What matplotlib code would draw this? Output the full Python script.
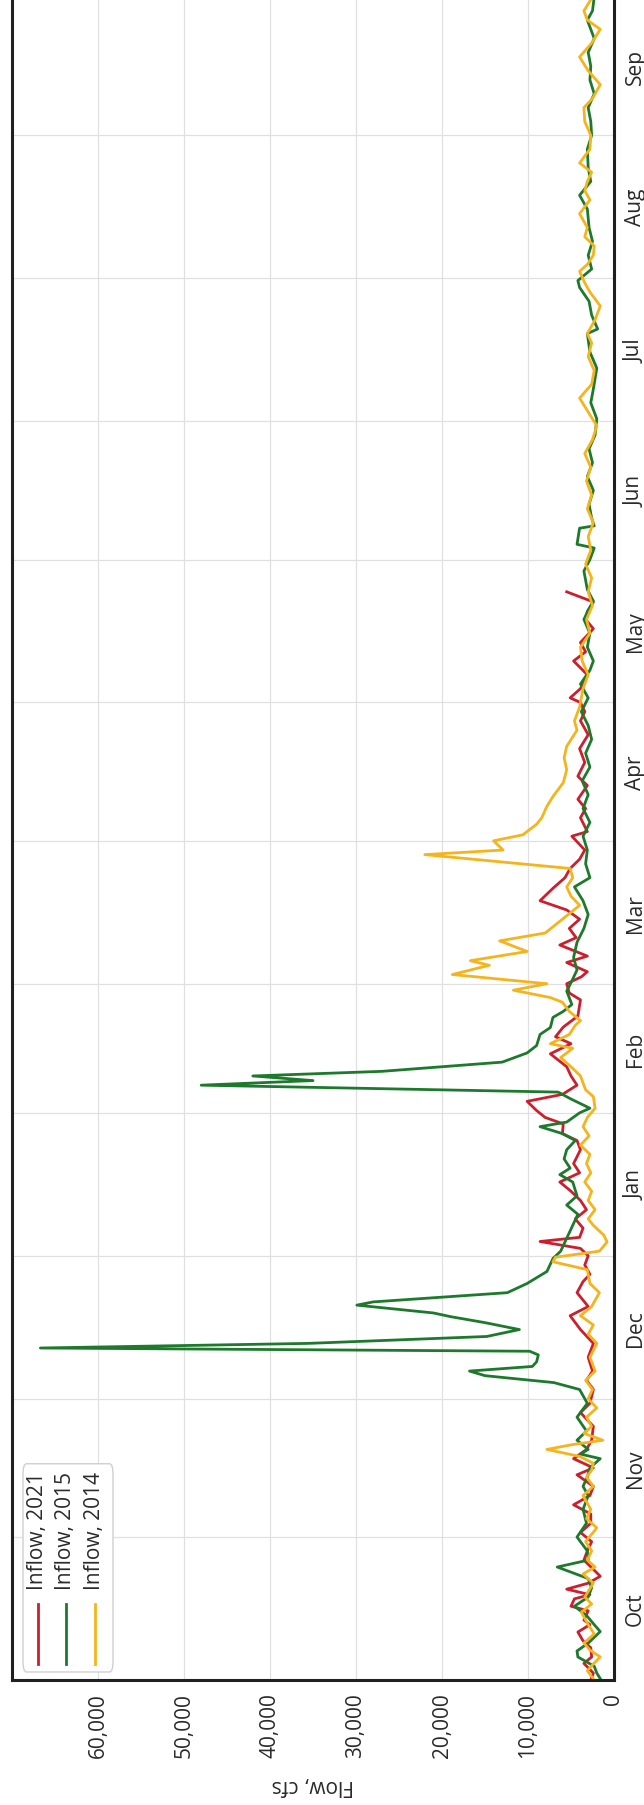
import numpy as np
import matplotlib.pyplot as plt
from matplotlib.patches import FancyBboxPatch

plt.rcParams['font.family'] = ['Open Sans', 'DejaVu Sans']

# water year, Oct -> Sep
months = ["Oct", "Nov", "Dec", "Jan", "Feb", "Mar", "Apr", "May", "Jun", "Jul", "Aug", "Sep"]
month_days = [31, 30, 31, 31, 28, 31, 30, 31, 30, 31, 31, 30]
flow_ticks = [0, 10000, 20000, 30000, 40000, 50000, 60000]

# (day of water year, inflow cfs)
inflow_2021 = [
    (0, 2700), (1.5, 2400), (3.6, 3500), (5, 2600), (7, 2700), (8.5, 3600), (10.4, 4200),
    (12, 2800), (13, 3500), (15, 3000), (16, 5000), (17.6, 4600), (18.5, 2800), (19.7, 5500),
    (21, 3000), (22.5, 1600), (24, 2400), (26, 3500), (28, 3100), (30, 2600), (32, 3900),
    (34, 2700), (36, 2700), (38, 4700), (40, 2800), (42, 2400), (44.5, 4300), (46, 2400),
    (48, 4700), (50, 3200), (52, 2600), (55, 2400), (58, 3900), (60, 2800), (63, 2400),
    (65, 3200), (67, 2500), (70, 3000), (73, 2400), (76, 3900), (79, 5100), (81, 3000),
    (84, 4300), (86.4, 3600), (88, 2800), (90, 3400), (92, 3000), (93.6, 3900), (95.1, 8600),
    (96, 4000), (98, 3600), (100, 4500), (102, 3200), (104, 3900), (106, 5000), (108, 6300),
    (110, 4000), (112, 4700), (115, 3900), (117, 4300), (118.5, 6000), (120.6, 5900),
    (122, 8000), (123.5, 9000), (125.5, 10100), (127, 6000), (129, 4300), (131, 5000),
    (133, 5500), (135.8, 7400), (138, 5000), (139.5, 6800), (141.6, 5900), (144, 4200),
    (147.5, 3900), (149, 5200), (151, 5500), (152.5, 3800), (153.6, 3100), (155.6, 5500),
    (157, 3100), (159.4, 6300), (161, 4400), (163, 5200), (165, 4000), (167, 5500),
    (169, 8600), (171.7, 7100), (174, 5700), (176, 5100), (178, 4000), (180, 3400),
    (183, 4900), (184, 3100), (187, 3900), (189, 3300), (191, 4200), (194, 3100), (196, 4200),
    (199, 3400), (202, 4000), (205, 3000), (208, 3900), (210, 3400), (212, 3900), (213, 5100),
    (215, 3900), (218, 3100), (221, 4700), (223, 3300), (225, 3900), (228, 2400), (230, 3300),
    (231.7, 3100), (233.8, 2400), (236, 5500),
]

inflow_2015 = [
    (0, 1500), (1.5, 2000), (3, 2300), (5, 4200), (6.3, 4300), (8, 3000), (10.5, 1600),
    (12, 2300), (14, 3200), (16, 4600), (18, 3000), (20, 2600), (22, 3000), (24.5, 6600),
    (26, 3000), (28, 3100), (31, 4300), (34, 3200), (37, 3600), (40, 3000), (42, 3600),
    (44, 3100), (46, 2800), (48, 1600), (49, 3900), (50, 3000), (52, 4300), (54, 3200),
    (57, 4300), (60, 3100), (62, 3700), (63, 4000), (64.5, 7000), (66, 15000), (67, 16800),
    (68, 9500), (69, 9000), (70.5, 8800), (71.3, 9800), (72, 66700), (73, 35600),
    (74.5, 14800), (76, 11000), (77.5, 15000), (78.8, 19000), (79.6, 21000), (81.3, 29900),
    (82, 28000), (84, 12400), (86, 10100), (88.6, 7800), (91.4, 7100), (93, 6200),
    (95.8, 5500), (98.6, 4800), (101, 4200), (103, 5500), (105, 4300), (108, 4800),
    (109.6, 6300), (111, 5100), (113, 5800), (115, 5500), (117, 4500), (118.5, 6000),
    (120, 8600), (121, 5500), (123, 4000), (124, 2800), (126, 5000), (127.5, 6500),
    (129, 48000), (130, 35000), (131, 42000), (132, 27000), (134, 13000), (136, 10100),
    (137.6, 9000), (140, 8600), (141.5, 7400), (143.7, 7100), (145, 5900), (146.5, 4900),
    (149.4, 5500), (151.6, 4900), (154, 4300), (156.7, 4700), (160, 4300), (163, 3500),
    (166, 3000), (169, 3600), (172, 4600), (174, 2800), (177, 3300), (180, 3100),
    (183, 3600), (186, 2800), (189, 3600), (192, 3000), (195, 3700), (198, 2800),
    (201, 3300), (204, 2600), (207, 3000), (210, 3800), (213, 3000), (216, 3900),
    (219, 2800), (221, 2400), (224, 3100), (227, 2800), (230, 3500), (232, 3000),
    (234, 2400), (236.5, 3100), (240.5, 3500), (243, 2800), (245.5, 2300), (246.3, 4300),
    (249.8, 4000), (250.3, 2300), (252, 2600), (255, 2900), (258, 2400), (261, 3100),
    (264, 2500), (267, 2900), (270, 2200), (273.5, 2000), (277, 2700), (280, 2400),
    (284.5, 2000), (288, 2800), (292, 3100), (293, 1900), (296, 2600), (299, 2900),
    (302, 4000), (303.5, 4200), (306, 2600), (309, 3000), (312, 2500), (315, 2900),
    (319, 3100), (322, 4000), (325, 2700), (328, 3000), (332, 3100), (335, 2600),
    (338, 2700), (341, 3000), (344, 2300), (347, 2800), (350, 2700), (353, 3000),
    (356, 2300), (360, 3100), (362, 2500), (365, 2300),
]

inflow_2014 = [
    (0, 2300), (2, 3100), (3.5, 2400), (5, 1600), (6.5, 2800), (8, 3500), (10, 2300),
    (12, 3000), (14.7, 3800), (16.5, 2600), (18, 3400), (21, 2400), (23, 3600), (24.5, 2200),
    (26, 3100), (28, 2600), (30, 3300), (33, 2000), (35, 3200), (37, 2700), (40, 3600),
    (42, 2400), (44, 3200), (45.5, 2600), (47, 2400), (48.5, 4000), (50, 7800), (51, 5000),
    (52, 1300), (53.5, 3500), (55, 2600), (57, 3200), (59, 2000), (61, 3000), (63, 2500),
    (65, 3300), (67, 2200), (70, 2800), (73, 2000), (75, 3000), (77, 2400), (79, 3900),
    (81, 2600), (84, 1700), (86, 2800), (89, 3100), (90.7, 7100), (91.7, 6800), (93, 1700),
    (95, 800), (96.5, 1200), (98.6, 2400), (100, 3000), (102, 2200), (104, 3000), (106, 2600),
    (108, 3400), (110, 2700), (112, 3200), (114, 2800), (116, 3900), (118, 2900), (120, 3600),
    (122, 3100), (124, 2200), (126.5, 2400), (128, 3300), (131, 3900), (133, 5000),
    (135, 6200), (137, 4800), (138, 7400), (140, 5200), (142, 4500), (143, 3900), (145, 5200),
    (147, 6000), (148, 7400), (149.6, 11700), (151, 7800), (153, 18800), (155, 14500),
    (156, 16700), (158, 10100), (160.3, 13300), (162, 8000), (165, 6000), (168, 4000),
    (170, 5000), (172, 5500), (174, 4800), (176, 5100), (179, 22000), (180, 12900),
    (182, 14000), (183.3, 10600), (185.6, 9000), (187, 8400), (189.5, 7800), (191.6, 7100),
    (194.6, 5900), (197.4, 5500), (200, 5800), (202.5, 5500), (206, 4300), (208, 4600),
    (211, 4000), (215, 3600), (218, 3000), (221, 3700), (224, 3900), (227, 2800), (230, 3200),
    (233, 2500), (236, 3000), (239, 2600), (242, 3300), (245, 2700), (248, 3000), (251, 2400),
    (254, 3100), (257, 2600), (260, 3200), (263, 2700), (266, 3400), (269, 2500), (272, 2000),
    (275, 3000), (278, 4000), (281, 2600), (284, 2300), (287, 3000), (290, 2600), (292, 3100),
    (295, 2200), (298, 1600), (301, 2800), (303, 3400), (305.5, 4000), (307, 3100),
    (309, 2400), (311, 2300), (313, 3400), (315, 3100), (318, 4000), (321, 2800), (323, 3400),
    (325, 3100), (327, 2600), (329, 4000), (332, 2800), (335, 2700), (338, 3400), (341, 3500),
    (343, 2500), (346, 1600), (349, 3000), (352, 4000), (355, 2600), (358, 1600), (360, 3100),
    (362, 3500), (365, 2500),
]

series = [
    ("Inflow, 2021", inflow_2021, "#cc1f2d"),
    ("Inflow, 2015", inflow_2015, "#1d7a2c"),
    ("Inflow, 2014", inflow_2014, "#f5b41c"),
]

W, H = 644, 1806
fig = plt.figure(figsize=(W / 100, H / 100), dpi=100)
# chart is laid out sideways: flow runs right-to-left, time runs bottom-to-top
ax = fig.add_axes([12 / W, (H - 1681) / H, 602 / W, 1683 / H])

for name, pts, color in series:
    d, f = np.array(pts).T
    ax.plot(f, d, color=color, lw=2.0, solid_joinstyle="round", label=name)

ax.set_xlim(70000, 0)
ax.set_ylim(0, 365)

bounds = np.concatenate([[0], np.cumsum(month_days)])
mids = (bounds[:-1] + bounds[1:]) / 2
ax.set_yticks(mids)
ax.set_yticklabels(months, rotation=90, va="center")
ax.set_yticks(bounds[1:-1], minor=True)
ax.yaxis.tick_right()
ax.tick_params(axis="y", which="both", length=0, pad=8, labelsize=15, labelcolor="#2a2a2a")

ax.set_xticks(flow_ticks)
ax.set_xticklabels([f"{v:,}" for v in flow_ticks], rotation=90)
ax.tick_params(axis="x", length=0, pad=9, labelsize=15, labelcolor="#2a2a2a")
ax.set_xlabel("Flow, cfs", rotation=180, fontsize=15, color="#2a2a2a", labelpad=12)

ax.grid(axis="x", which="major", color="#e0e0e0", lw=0.9)
ax.grid(axis="y", which="minor", color="#e0e0e0", lw=0.9)
ax.set_axisbelow(True)
for sp in ax.spines.values():
    sp.set_color("#202020")
    sp.set_linewidth(2.2)

# legend drawn by hand so its entries can stand on end
def ax_xy(px, py):
    return (px - 12) / 602, (1681 - py) / 1681

x0, y0 = ax_xy(23, 1673)
x1, y1 = ax_xy(113, 1465)
box = FancyBboxPatch((x0, y0), x1 - x0, y1 - y0, boxstyle="round,pad=0,rounding_size=0.006",
                     transform=ax.transAxes, fc="white", ec="#cfcfcf", lw=1.0, zorder=5)
ax.add_patch(box)
for (name, _, color), px in zip(series, [38, 66, 95]):
    lx, ly0 = ax_xy(px, 1665)
    _, ly1 = ax_xy(px, 1605)
    ax.plot([lx, lx], [ly0, ly1], color=color, lw=2.0, transform=ax.transAxes, zorder=6)
    _, ty = ax_xy(px, 1590)
    ax.text(lx, ty, name, rotation=90, ha="center", va="bottom", fontsize=15,
            color="#2a2a2a", transform=ax.transAxes, zorder=6)

fig.savefig("out.png", dpi=100)
